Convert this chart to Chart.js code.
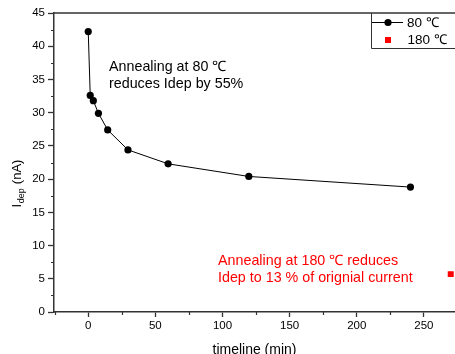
<!DOCTYPE html>
<html><head><meta charset="utf-8">
<script src="https://cdn.jsdelivr.net/npm/chart.js@4/dist/chart.umd.min.js"></script>
<style>html,body{margin:0;padding:0;background:#fff;overflow:hidden}#wrap{width:455px;height:354px;position:relative;overflow:hidden}</style>
</head><body><div id="wrap"><canvas id="c" width="459" height="354"></canvas></div>
<script>
// ---- data ----
const time80 = [0, 1.5, 3.8, 7.6, 14.5, 29.6, 59.5, 119.6, 240];
const idep80 = [42.2, 32.6, 31.8, 29.9, 27.4, 24.4, 22.3, 20.4, 18.8];
const time180 = [270];
const idep180 = [5.7];
const xTicks = [0, 50, 100, 150, 200, 250];
const xMinor = [-25, 25, 75, 125, 175, 225];
const yTicks = [0, 5, 10, 15, 20, 25, 30, 35, 40, 45];
const yMinor = [2.5, 7.5, 12.5, 17.5, 22.5, 27.5, 32.5, 37.5, 42.5];
const seriesLabels = ['80 \u2103', '180 \u2103'];
const note80 = ['Annealing at 80 \u2103', 'reduces Idep by 55%'];
const note180 = ['Annealing at 180 \u2103 reduces', 'Idep to 13 % of orignial current'];
const xTitle = 'timeline (min)';

const FONT = '"Liberation Sans", Arial, Helvetica, sans-serif';
const AX = '#333';

const extras = {
  id: 'extras',
  afterDraw(chart) {
    const ctx = chart.ctx, a = chart.chartArea;
    const xs = chart.scales.x, ys = chart.scales.y;
    ctx.save();
    // top frame
    ctx.strokeStyle = AX; ctx.lineWidth = 1.5;
    ctx.beginPath(); ctx.moveTo(a.left, a.top); ctx.lineTo(chart.width, a.top); ctx.stroke();
    // minor ticks
    ctx.lineWidth = 1.2;
    ctx.beginPath();
    yMinor.forEach(v => { const y = Math.round(ys.getPixelForValue(v)) + 0.5; ctx.moveTo(a.left - 3, y); ctx.lineTo(a.left, y); });
    xMinor.forEach(v => { const x = Math.round(xs.getPixelForValue(v)) + 0.5; ctx.moveTo(x, a.bottom); ctx.lineTo(x, a.bottom + 3); });
    ctx.stroke();
    // annotations
    ctx.textAlign = 'left'; ctx.textBaseline = 'alphabetic';
    ctx.font = '14.3px ' + FONT;
    ctx.fillStyle = '#000';
    ctx.fillText(note80[0], 109, 70.5);
    ctx.fillText(note80[1], 109, 88);
    ctx.fillStyle = '#ff0000';
    ctx.fillText(note180[0], 218, 265);
    ctx.fillText(note180[1], 218, 282);
    // legend
    ctx.strokeStyle = AX; ctx.lineWidth = 1;
    ctx.beginPath();
    ctx.moveTo(471, 48.5); ctx.lineTo(371.5, 48.5); ctx.lineTo(371.5, 13);
    ctx.stroke();
    ctx.strokeStyle = '#000'; ctx.lineWidth = 1;
    ctx.beginPath(); ctx.moveTo(372, 22.5); ctx.lineTo(403, 22.5); ctx.stroke();
    ctx.fillStyle = '#000';
    ctx.beginPath(); ctx.arc(388, 22.5, 3.6, 0, Math.PI * 2); ctx.fill();
    ctx.fillStyle = '#ff0000';
    ctx.fillRect(385, 37, 6, 6);
    ctx.fillStyle = '#000';
    ctx.font = '13.5px ' + FONT;
    ctx.textBaseline = 'middle';
    ctx.fillText(seriesLabels[0], 407, 23);
    ctx.fillText(seriesLabels[1], 407.5, 40.5);
    // x title
    ctx.textAlign = 'center'; ctx.textBaseline = 'alphabetic';
    ctx.font = '14px ' + FONT;
    ctx.fillText(xTitle, (a.left + 455) / 2, 353.5);
    // y title
    ctx.translate(21, 184);
    ctx.rotate(-Math.PI / 2);
    ctx.textAlign = 'left';
    const f1 = '13px ' + FONT, f2 = '9px ' + FONT;
    ctx.font = f1; const wI = ctx.measureText('I').width; const wT = ctx.measureText(' (nA)').width;
    ctx.font = f2; const wD = ctx.measureText('dep').width;
    let x0 = -(wI + wD + wT) / 2;
    ctx.font = f1; ctx.fillText('I', x0, 0);
    ctx.font = f2; ctx.fillText('dep', x0 + wI + 0.5, 2.5);
    ctx.font = f1; ctx.fillText(' (nA)', x0 + wI + wD + 1, 0);
    ctx.restore();
  }
};

new Chart(document.getElementById('c'), {
  type: 'scatter',
  data: {
    datasets: [
      {
        label: seriesLabels[0],
        data: time80.map((t, i) => ({ x: t, y: idep80[i] })),
        showLine: true, borderColor: '#000', borderWidth: 1, tension: 0,
        pointBackgroundColor: '#000', pointBorderColor: '#000', pointRadius: 3.6, pointBorderWidth: 0,
        pointStyle: 'circle'
      },
      {
        label: seriesLabels[1],
        data: time180.map((t, i) => ({ x: t, y: idep180[i] })),
        showLine: false,
        pointBackgroundColor: '#ff0000', pointBorderColor: '#ff0000', pointRadius: 4.24, pointBorderWidth: 0,
        pointStyle: 'rect'
      }
    ]
  },
  options: {
    responsive: false, animation: false, devicePixelRatio: 1,
    layout: { padding: { top: 13, right: 0, left: 0, bottom: 0 } },
    plugins: { legend: { display: false }, tooltip: { enabled: false } },
    scales: {
      x: {
        type: 'linear', position: 'bottom', min: -25.5, max: 273,
        grid: { display: true, drawOnChartArea: false, drawTicks: true, tickLength: 5, tickColor: AX, tickWidth: 1.3 },
        border: { display: true, color: AX, width: 1.5 },
        ticks: { color: '#000', font: { family: FONT, size: 11.5 }, padding: 2, maxRotation: 0, autoSkip: false, includeBounds: false },
        afterBuildTicks: s => { s.ticks = xTicks.map(v => ({ value: v })); },
        afterFit: s => { s.height = 42; s.paddingRight = 0; s.paddingLeft = 0; }
      },
      y: {
        type: 'linear', position: 'left', min: 0, max: 45,
        grid: { display: true, drawOnChartArea: false, drawTicks: true, tickLength: 6, tickColor: AX, tickWidth: 1.3 },
        border: { display: true, color: AX, width: 1.5 },
        ticks: { color: '#000', font: { family: FONT, size: 11.5 }, padding: 3, autoSkip: false, includeBounds: false },
        afterBuildTicks: s => { s.ticks = yTicks.map(v => ({ value: v })); },
        afterFit: s => { s.width = 54; s.paddingTop = 0; s.paddingBottom = 0; }
      }
    }
  },
  plugins: [extras]
});
</script>
</body></html>
